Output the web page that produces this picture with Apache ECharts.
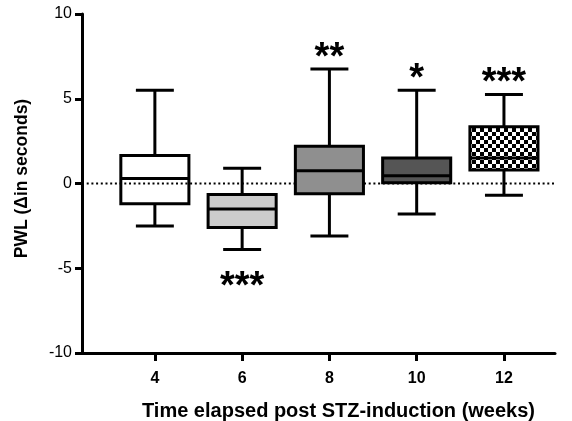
<!DOCTYPE html>
<html><head><meta charset="utf-8">
<script src="https://cdn.jsdelivr.net/npm/echarts@6/dist/echarts.min.js"></script>
<style>html,body{margin:0;padding:0;background:#fff}#c{width:572px;height:421px}</style>
</head><body><div id="c"></div>
<script>
// ---- data ----
const weeks = [4, 6, 8, 10, 12];
const whiskerLow = [-2.5, -3.9, -3.1, -1.8, -0.7];
const q1 = [-1.2, -2.6, -0.6, 0.05, 0.8];
const median = [0.3, -1.5, 0.75, 0.45, 1.5];
const q3 = [1.65, -0.65, 2.2, 1.5, 3.35];
const whiskerHigh = [5.5, 0.9, 6.75, 5.5, 5.25];
const significance = ['', '***', '**', '*', '***'];
const sigSide = ['', 'below', 'above', 'above', 'above'];
const xTickLabels = [4, 6, 8, 10, 12];
const yTicks = [-10, -5, 0, 5, 10];
const fills = ['none', '#cccccc', '#8f8f8f', '#555555', 'checker'];
const zeroLine = [[2.33, 0], [13.55, 0]];

// ---- styles ----
const FONT = '"Liberation Sans", Arial, Helvetica, sans-serif';
const BOX_W = 1.56, CAP_W = 0.87;

function checkerCanvas() {
  const s = 4, c = document.createElement('canvas');
  c.width = c.height = s * 2;
  const g = c.getContext('2d');
  g.fillStyle = '#fff'; g.fillRect(0, 0, s * 2, s * 2);
  g.fillStyle = '#000'; g.fillRect(0, 0, s, s); g.fillRect(s, s, s, s);
  return c;
}
const checker = { image: checkerCanvas(), repeat: 'repeat' };

const boxData = weeks.map((w, i) => [w, whiskerLow[i], q1[i], median[i], q3[i], whiskerHigh[i], i]);

const chart = echarts.init(document.getElementById('c'), null, { renderer: 'canvas' });
chart.setOption({
  animation: false,
  grid: { left: 82, right: 17, top: 14, bottom: 68, containLabel: false, outerBoundsMode: 'none' },
  xAxis: {
    type: 'value', min: 2.33, max: 13.17,
    name: 'Time elapsed post STZ-induction (weeks)',
    nameLocation: 'middle', nameGap: 48,
    nameTextStyle: { fontFamily: FONT, fontWeight: 'bold', fontSize: 20, color: '#000', padding: [0, 0, 0, 40] },
    axisLine: { show: true, onZero: false, lineStyle: { color: '#000', width: 3 } },
    axisTick: { show: true, customValues: xTickLabels, length: 8, lineStyle: { color: '#000', width: 3 } },
    axisLabel: { customValues: xTickLabels, fontFamily: FONT, fontWeight: 'bold', fontSize: 16, color: '#000', margin: 18 },
    splitLine: { show: false }
  },
  yAxis: {
    type: 'value', min: yTicks[0], max: yTicks[yTicks.length - 1], interval: 5,
    name: 'PWL (\u0394in seconds)',
    nameLocation: 'middle', nameGap: 51, nameRotate: 90,
    nameTextStyle: { fontFamily: FONT, fontWeight: 'bold', fontSize: 17.5, color: '#000', padding: [0, 0, 0, 10] },
    axisLine: { show: true, lineStyle: { color: '#000', width: 3 } },
    axisTick: { show: true, length: 7, lineStyle: { color: '#000', width: 3 } },
    axisLabel: { fontFamily: FONT, fontSize: 16, color: '#000', margin: 10 },
    splitLine: { show: false }
  },
  series: [
    {
      type: 'line', data: zeroLine, symbol: 'none', clip: false, z: 1, silent: true,
      lineStyle: { color: '#000', width: 2, type: [2, 2.7] }
    },
    {
      type: 'custom', z: 3, data: boxData, clip: false,
      encode: { x: 0, y: [1, 2, 3, 4, 5] },
      renderItem(params, api) {
        const x = api.value(0), i = api.value(6);
        const pLow = api.coord([x, api.value(1)]);
        const pQ1 = api.coord([x, api.value(2)]);
        const pMed = api.coord([x, api.value(3)]);
        const pQ3 = api.coord([x, api.value(4)]);
        const pHigh = api.coord([x, api.value(5)]);
        const unit = api.size([1, 0])[0];
        const bw = BOX_W * unit / 2, cw = CAP_W * unit / 2, cx = pMed[0];
        const ls = { stroke: '#000', lineWidth: 3 };
        const f = fills[i] === 'checker' ? checker : fills[i];
        const children = [
          { type: 'line', shape: { x1: cx, y1: pLow[1], x2: cx, y2: pQ1[1] }, style: ls },
          { type: 'line', shape: { x1: cx, y1: pQ3[1], x2: cx, y2: pHigh[1] }, style: ls },
          { type: 'line', shape: { x1: cx - cw, y1: pLow[1], x2: cx + cw, y2: pLow[1] }, style: ls },
          { type: 'line', shape: { x1: cx - cw, y1: pHigh[1], x2: cx + cw, y2: pHigh[1] }, style: ls },
          { type: 'rect', shape: { x: cx - bw, y: pQ3[1], width: 2 * bw, height: pQ1[1] - pQ3[1] },
            style: { fill: f, stroke: '#000', lineWidth: 3 } },
          { type: 'line', shape: { x1: cx - bw, y1: pMed[1], x2: cx + bw, y2: pMed[1] }, style: ls }
        ];
        if (significance[i]) {
          const ty = sigSide[i] === 'above' ? pHigh[1] - 11 : pLow[1] + 38;
          children.push({ type: 'text', style: {
            text: significance[i], x: cx, y: ty, align: 'center', verticalAlign: 'middle',
            font: 'bold 38px ' + FONT, fill: '#000' } });
        }
        return { type: 'group', children };
      }
    }
  ]
});
</script></body></html>
